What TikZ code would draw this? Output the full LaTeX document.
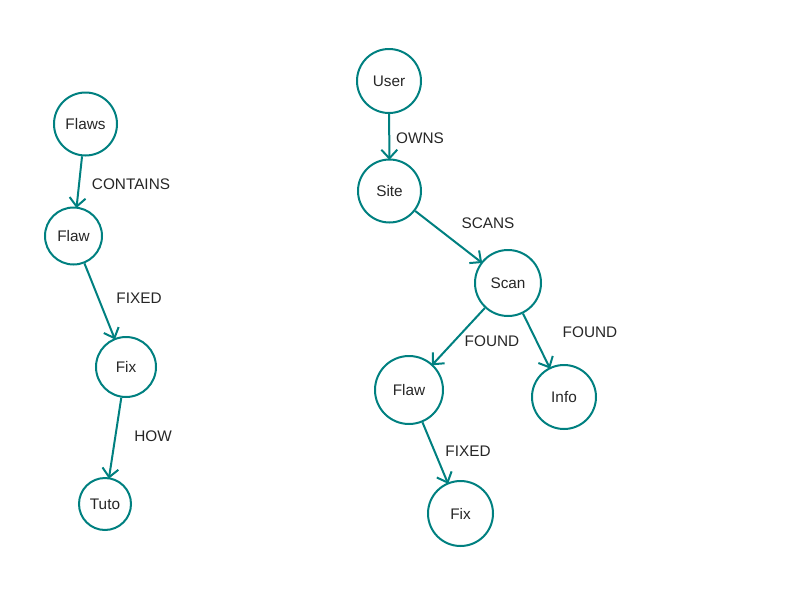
\documentclass[tikz,border=0pt]{standalone}
\usepackage{fontspec}
\setmainfont{Liberation Sans}
\usetikzlibrary{arrows.meta}
\definecolor{tealc}{RGB}{0,128,128}
\begin{document}
\begin{tikzpicture}[x=0.75pt,y=-0.75pt,
  nd/.style={circle,draw=tealc,line width=1.5pt,inner sep=0pt,minimum size={#1*0.75pt},font=\fontsize{11.5}{13}\selectfont,text=black!85},
  lbl/.style={font=\fontsize{11.5}{13}\selectfont,text=black!85,inner sep=0pt},
  edge/.style={draw=tealc,line width=1.5pt,-{Straight Barb[length=6.5pt,width=12pt,line width=1.5pt]},shorten >=-1pt}]
\useasboundingbox (0,0) rectangle (800,600);
\node[nd=63] (flaws) at (85.5,124) {Flaws};
\node[nd=57] (flawl) at (73.5,236) {Flaw};
\node[nd=60] (fixl) at (126,367) {Fix};
\node[nd=52] (tuto) at (105,504) {Tuto};
\node[nd=64] (user) at (389,81) {User};
\node[nd=63] (site) at (389.5,191) {Site};
\node[nd=66] (scan) at (508,283) {Scan};
\node[nd=68] (flawr) at (409,390) {Flaw};
\node[nd=64] (info) at (564,397) {Info};
\node[nd=65] (fixr) at (460.5,513.5) {Fix};
\draw[edge] (flaws) -- (flawl);
\draw[edge] (flawl) -- (fixl);
\draw[edge] (fixl) -- (tuto);
\draw[edge] (user) -- (site);
\draw[edge] (site) -- (scan);
\draw[edge] (scan) -- (flawr);
\draw[edge] (scan) -- (info);
\draw[edge] (flawr) -- (fixr);
\node[lbl] (l1) at (131,184) {CONTAINS};
\node[lbl] (l2) at (139,298) {FIXED};
\node[lbl] (l3) at (153,436) {HOW};
\node[lbl] (l4) at (420,138) {OWNS};
\node[lbl] (l5) at (488,223) {SCANS};
\node[lbl] (l6) at (492,341) {FOUND};
\node[lbl] (l7) at (590,332) {FOUND};
\node[lbl] (l8) at (468,451) {FIXED};
\end{tikzpicture}
\end{document}
